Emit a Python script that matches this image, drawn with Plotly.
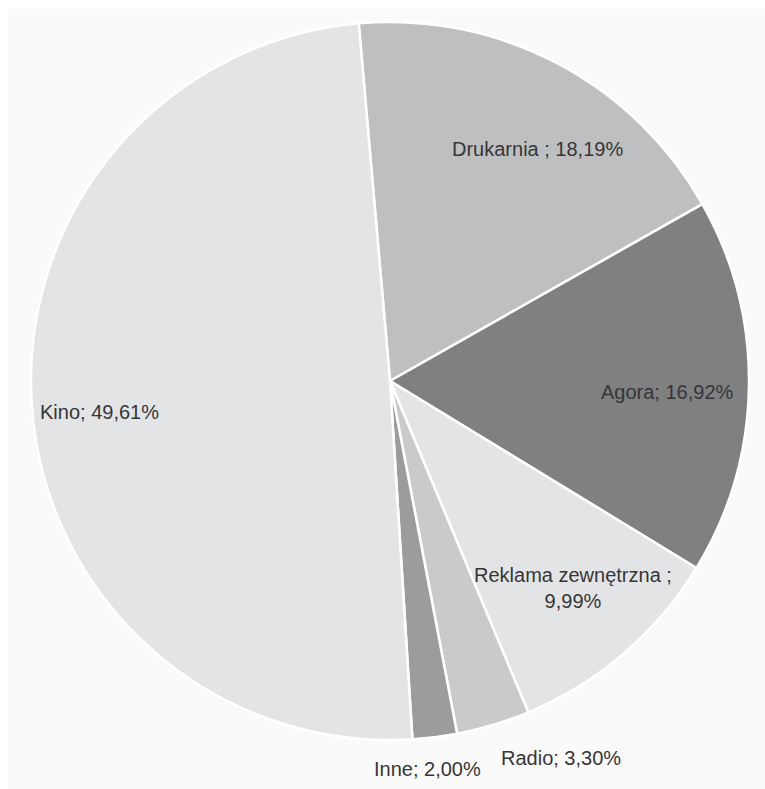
import math
import plotly.graph_objects as go

# ---- data ----
labels = ["Drukarnia", "Agora", "Reklama zewnętrzna", "Radio", "Inne", "Kino"]
values = [18.19, 16.92, 9.99, 3.30, 2.00, 49.61]
label_texts = ["Drukarnia ; 18,19%", "Agora; 16,92%", "Reklama zewnętrzna ;<br>9,99%",
               "Radio; 3,30%", "Inne; 2,00%", "Kino; 49,61%"]

# ---- style ----
colors = ["#bebfc1", "#7f8082", "#e3e4e6", "#c9cacc", "#9b9c9e", "#e3e4e6"]
W, H = 765, 789
CX, CY, R = 390, 381, 359          # pie centre / radius in pixels
START = -5.0                        # first slice starts 5 deg left of 12 o'clock
# label placement: radius fraction, angle nudge (deg), xanchor, yanchor
placement = [
    (0.765, 4.8, "center", "middle"),
    (0.775, 1.4, "center", "middle"),
    (0.77, -0.9, "center", "middle"),
    (1.06, 0.0, "left", "top"),
    (1.05, 1.5, "center", "top"),
    (0.815, -1.8, "center", "middle"),
]

fig = go.Figure(go.Pie(
    labels=labels, values=values, sort=False, direction="clockwise",
    rotation=START, textinfo="none", hoverinfo="label+percent",
    marker=dict(colors=colors, line=dict(color="white", width=2.5)),
    domain=dict(x=[(CX - R) / W, (CX + R) / W], y=[1 - (CY + R) / H, 1 - (CY - R) / H]),
    showlegend=False,
))

total = sum(values)
cum = 0.0
annotations = []
for v, txt, (rf, nudge, xa, ya) in zip(values, label_texts, placement):
    mid = START + (cum + v / 2) / total * 360 + nudge
    cum += v
    a = math.radians(mid)
    px = CX + rf * R * math.sin(a)
    py = CY - rf * R * math.cos(a)
    annotations.append(dict(
        x=px / W, y=1 - py / H, xref="paper", yref="paper", text=txt,
        showarrow=False, xanchor=xa, yanchor=ya, align="center",
        font=dict(family="Liberation Sans, Arial, sans-serif", size=20, color="#363636"),
    ))

fig.update_layout(
    width=W, height=H, margin=dict(l=0, r=0, t=0, b=0),
    paper_bgcolor="white",
    annotations=annotations,
    shapes=[dict(type="rect", xref="paper", yref="paper", x0=8 / W, x1=1, y0=0, y1=1 - 9 / H,
                 fillcolor="#fafafa", line=dict(width=0), layer="below")],
)

fig.write_html("out.html")
